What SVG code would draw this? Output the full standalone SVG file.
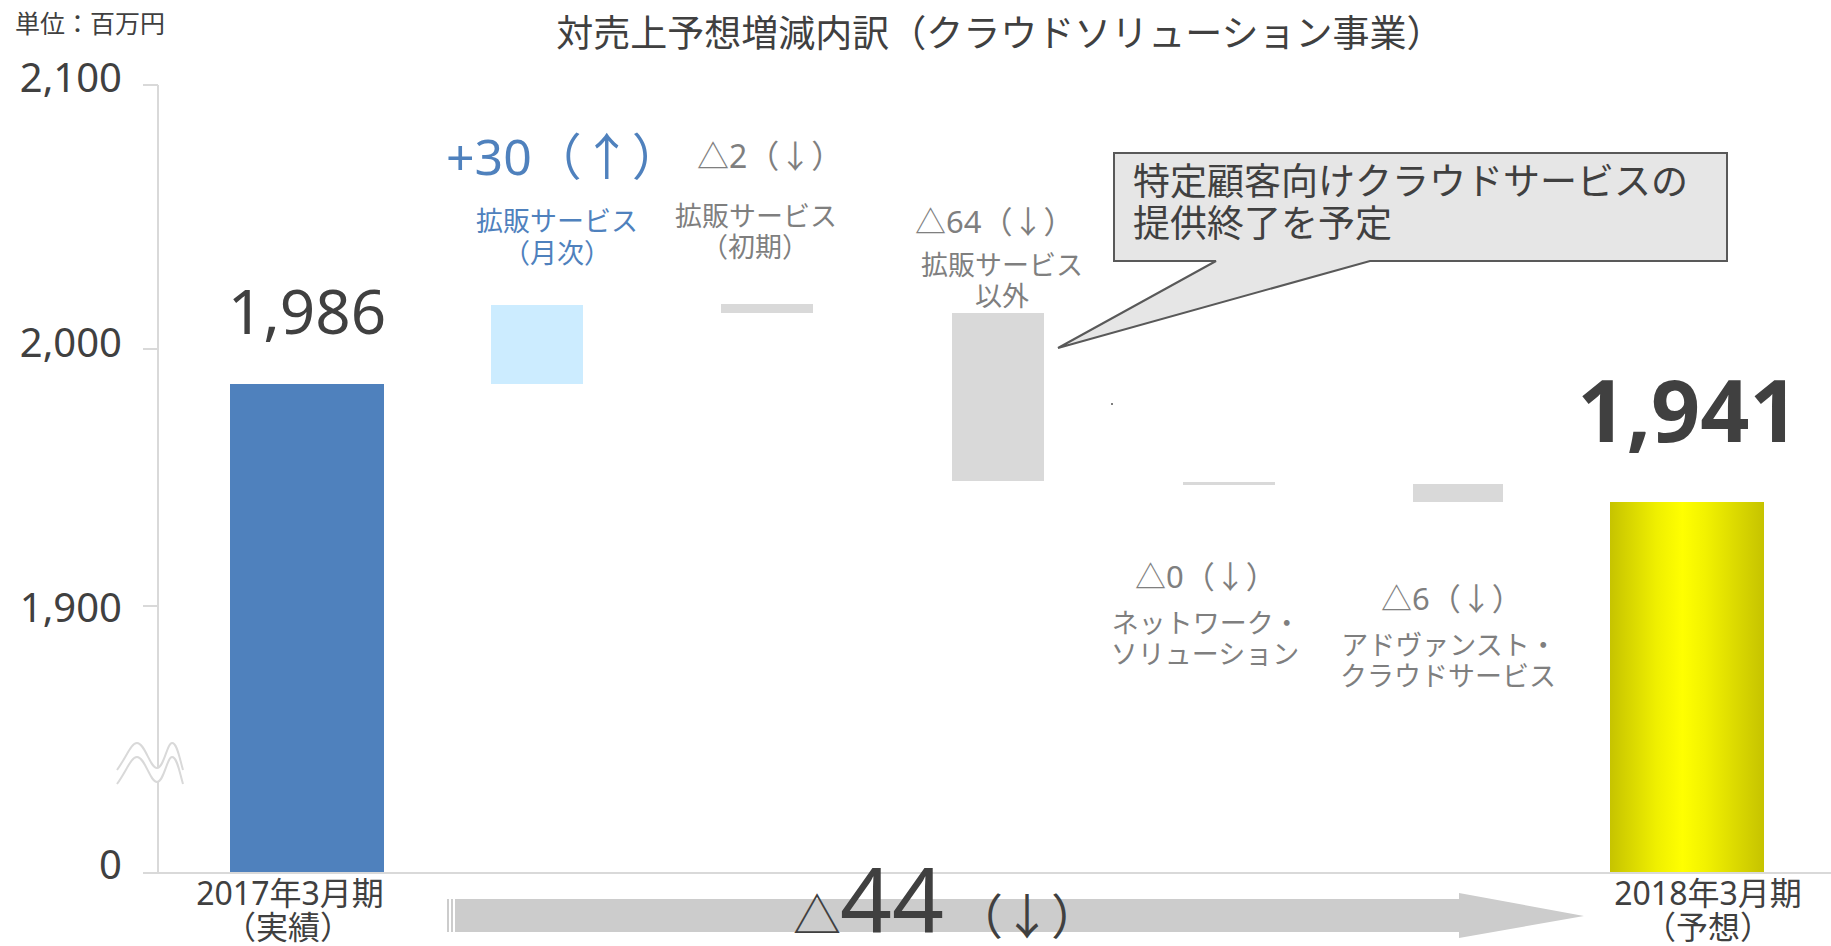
<svg xmlns="http://www.w3.org/2000/svg" width="1831" height="946" viewBox="0 0 1831 946">
<defs>
<linearGradient id="goldGrad" x1="0" y1="0" x2="1" y2="0">
<stop offset="0" stop-color="#C6C300"/>
<stop offset="0.3" stop-color="#EFEF00"/>
<stop offset="0.47" stop-color="#FFFF00"/>
<stop offset="0.62" stop-color="#F2F200"/>
<stop offset="1" stop-color="#C6C300"/>
</linearGradient>
</defs>
<style>
.t { font-family: "Noto Sans", "Noto Sans CJK JP", sans-serif; }
.cjk { font-family: "Noto Sans CJK JP", sans-serif; }
.dark { fill: #404040; }
.gray { fill: #7F7F7F; }
.blue { fill: #4F81BD; }
.axis { stroke: #D9D9D9; stroke-width: 2; fill: none; }
.barGray { fill: #D9D9D9; }
.mid { text-anchor: middle; }
.end { text-anchor: end; }
</style>
<rect width="1831" height="946" fill="#FFFFFF"/>

<g id="header">
<text class="t dark" x="15" y="33" font-size="25">単位：百万円</text>
<text class="t dark mid" x="1000" y="47" font-size="37">対売上予想増減内訳（クラウドソリューション事業）</text>
</g>

<g id="bar-2017">
<rect x="230" y="384" width="154" height="488" fill="#4F81BD"/>
<text class="t dark mid" x="307" y="334" font-size="62">1,986</text>
<text class="t dark mid" x="290" y="905" font-size="32">2017年3月期</text>
<text class="t dark mid" x="288" y="939" font-size="32">（実績）</text>
</g>

<g id="bar-monthly">
<rect x="491" y="305" width="92" height="79" fill="#CCECFF"/>
<text class="t blue" x="446" y="175" font-size="50">+30（<tspan class="cjk">↑</tspan>）</text>
<text class="t blue mid" x="557" y="231" font-size="27">拡販サービス</text>
<text class="t blue mid" x="557" y="263" font-size="27">（月次）</text>
</g>

<g id="bar-initial">
<rect class="barGray" x="721" y="304" width="92" height="9"/>
<text class="t gray" x="697" y="168" font-size="32"><tspan class="cjk">△</tspan>2（<tspan class="cjk">↓</tspan>）</text>
<text class="t gray mid" x="756" y="226" font-size="27">拡販サービス</text>
<text class="t gray mid" x="755" y="257" font-size="27">（初期）</text>
</g>

<g id="bar-other">
<rect class="barGray" x="952" y="313" width="92" height="168"/>
<text class="t gray" x="915" y="233" font-size="31"><tspan class="cjk">△</tspan>64（<tspan class="cjk">↓</tspan>）</text>
<text class="t gray mid" x="1002" y="275" font-size="27">拡販サービス</text>
<text class="t gray mid" x="1002" y="306" font-size="27">以外</text>
</g>

<g id="callout">
<path d="M1114,153 H1727 V261 H1370 L1058,348 L1216,261 H1114 Z" fill="#E6E6E6" stroke="#595959" stroke-width="2" stroke-linejoin="miter"/>
<text class="t dark" x="1133" y="195" font-size="37">特定顧客向けクラウドサービスの</text>
<text class="t dark" x="1133" y="237" font-size="37">提供終了を予定</text>
</g>

<g id="bar-network">
<rect x="1111" y="403" width="2" height="2" fill="#7F7F7F"/>
<rect class="barGray" x="1183" y="482" width="92" height="3"/>
<text class="t gray" x="1135" y="588" font-size="31"><tspan class="cjk">△</tspan>0（<tspan class="cjk">↓</tspan>）</text>
<text class="t gray mid" x="1206" y="633" font-size="27">ネットワーク・</text>
<text class="t gray mid" x="1205" y="664" font-size="27">ソリューション</text>
</g>

<g id="bar-advanced">
<rect class="barGray" x="1413" y="484" width="90" height="18"/>
<text class="t gray" x="1381" y="610" font-size="31"><tspan class="cjk">△</tspan>6（<tspan class="cjk">↓</tspan>）</text>
<text class="t gray mid" x="1449" y="655" font-size="27">アドヴァンスト・</text>
<text class="t gray mid" x="1448" y="686" font-size="27">クラウドサービス</text>
</g>

<g id="bar-2018">
<rect x="1610" y="502" width="154" height="370" fill="url(#goldGrad)"/>
<text class="t dark mid" x="1688" y="442" font-size="86" font-weight="bold">1,941</text>
<text class="t dark mid" x="1708" y="905" font-size="32">2018年3月期</text>
<text class="t dark mid" x="1708" y="939" font-size="32">（予想）</text>
</g>

<g id="axes">
<line class="axis" x1="158" y1="85" x2="158" y2="873"/>
<line class="axis" x1="143" y1="85" x2="158" y2="85"/>
<line class="axis" x1="143" y1="349" x2="158" y2="349"/>
<line class="axis" x1="143" y1="606" x2="158" y2="606"/>
<line class="axis" x1="143" y1="873" x2="1831" y2="873" stroke-width="2.5"/>
<text class="t dark end" x="122" y="92" font-size="40">2,100</text>
<text class="t dark end" x="122" y="357" font-size="40">2,000</text>
<text class="t dark end" x="122" y="622" font-size="40">1,900</text>
<text class="t dark end" x="122" y="879" font-size="40">0</text>
<path d="M117,770 C127,756 131,743 137,743 C145,743 150,768 157,768 C164,768 167,743 172,743 C177,743 179,756 183,770 L183,784 C179,770 177,757 172,757 C167,757 164,782 157,782 C150,782 145,757 137,757 C131,757 127,770 117,784 Z" fill="#FFFFFF"/>
<path class="axis" stroke-width="2.5" d="M117,770 C127,756 131,743 137,743 C145,743 150,768 157,768 C164,768 167,743 172,743 C177,743 179,756 183,770"/>
<path class="axis" stroke-width="2.5" d="M117,784 C127,770 131,757 137,757 C145,757 150,782 157,782 C164,782 167,757 172,757 C177,757 179,770 183,784"/>
</g>

<g id="connectors">
<rect x="447" y="899" width="2" height="33" fill="#CCCCCC"/>
<rect x="451" y="899" width="2" height="33" fill="#CCCCCC"/>
<path d="M455,899 H1459 V893 L1584,916 L1459,938 V932 H455 Z" fill="#CCCCCC"/>
</g>

<g id="total-change">
<text class="cjk dark mid" x="817" y="933" font-size="48">△</text>
<text class="t dark" x="840" y="933" font-size="90" textLength="104" lengthAdjust="spacingAndGlyphs">44</text>
<text class="t dark" x="955" y="934" font-size="48">（<tspan class="cjk">↓</tspan>）</text>
</g>
</svg>
